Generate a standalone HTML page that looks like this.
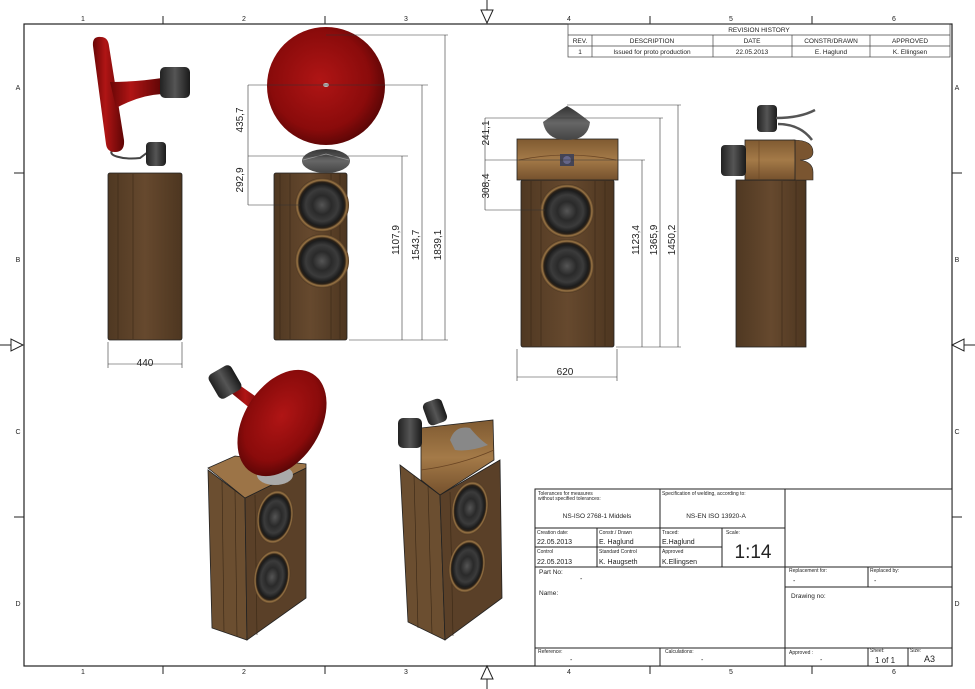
<!DOCTYPE html>
<html><head><meta charset="utf-8"><style>
html,body{margin:0;padding:0;background:#fff;}
svg{display:block;}
text{font-family:"Liberation Sans",sans-serif;fill:#222;}
</style></head><body>
<svg width="975" height="689" viewBox="0 0 975 689" xmlns="http://www.w3.org/2000/svg">
<defs>
<linearGradient id="wood" x1="0" x2="1" y1="0" y2="0">
<stop offset="0" stop-color="#4f3822"/><stop offset="0.5" stop-color="#66492e"/><stop offset="1" stop-color="#4d3620"/></linearGradient>
<linearGradient id="woodL" x1="0" x2="0" y1="0" y2="1">
<stop offset="0" stop-color="#7f5a31"/><stop offset="0.5" stop-color="#a47a48"/><stop offset="1" stop-color="#75512d"/></linearGradient>
<radialGradient id="red" cx="0.45" cy="0.45" r="0.6">
<stop offset="0" stop-color="#b01515"/><stop offset="0.7" stop-color="#8a0b0b"/><stop offset="1" stop-color="#520505"/></radialGradient>
<linearGradient id="redb" x1="0" x2="1"><stop offset="0" stop-color="#6a0606"/><stop offset="0.4" stop-color="#b01515"/><stop offset="1" stop-color="#5e0505"/></linearGradient>
<radialGradient id="spk" cx="0.5" cy="0.5" r="0.5">
<stop offset="0" stop-color="#555"/><stop offset="0.35" stop-color="#2a2a2a"/><stop offset="0.6" stop-color="#3b3b3b"/><stop offset="0.78" stop-color="#1c1c1c"/><stop offset="0.85" stop-color="#2a2016"/><stop offset="0.92" stop-color="#9a7545"/><stop offset="1" stop-color="#4a3420"/></radialGradient>
<linearGradient id="blk" x1="0" x2="1"><stop offset="0" stop-color="#222"/><stop offset="0.5" stop-color="#555"/><stop offset="1" stop-color="#1a1a1a"/></linearGradient>
<linearGradient id="tw" x1="0" x2="0" y1="0" y2="1"><stop offset="0" stop-color="#333"/><stop offset="0.5" stop-color="#666"/><stop offset="1" stop-color="#444"/></linearGradient>
</defs>

<!-- frame -->
<rect x="24" y="24" width="928" height="642" fill="none" stroke="#222" stroke-width="1.2"/>
<g stroke="#222" stroke-width="1">
<line x1="163" y1="16" x2="163" y2="24"/><line x1="325" y1="16" x2="325" y2="24"/><line x1="650" y1="16" x2="650" y2="24"/><line x1="812" y1="16" x2="812" y2="24"/>
<line x1="163" y1="666" x2="163" y2="674"/><line x1="325" y1="666" x2="325" y2="674"/><line x1="650" y1="666" x2="650" y2="674"/><line x1="812" y1="666" x2="812" y2="674"/>
<line x1="14" y1="173" x2="24" y2="173"/><line x1="14" y1="517" x2="24" y2="517"/>
<line x1="952" y1="173" x2="962" y2="173"/><line x1="952" y1="517" x2="962" y2="517"/>
<line x1="487" y1="0" x2="487" y2="10"/><polygon points="481,10 493,10 487,23" fill="#fff"/>
<line x1="487" y1="689" x2="487" y2="679"/><polygon points="481,679 493,679 487,666" fill="#fff"/>
<line x1="0" y1="345" x2="11" y2="345"/><polygon points="11,339 11,351 23,345" fill="#fff"/>
<line x1="975" y1="345" x2="964" y2="345"/><polygon points="964,339 964,351 952,345" fill="#fff"/>
</g>
<g font-size="7" text-anchor="middle">
<text x="83" y="21">1</text><text x="244" y="21">2</text><text x="406" y="21">3</text><text x="569" y="21">4</text><text x="731" y="21">5</text><text x="894" y="21">6</text>
<text x="83" y="674">1</text><text x="244" y="674">2</text><text x="406" y="674">3</text><text x="569" y="674">4</text><text x="731" y="674">5</text><text x="894" y="674">6</text>
<text x="18" y="90">A</text><text x="18" y="262">B</text><text x="18" y="434">C</text><text x="18" y="606">D</text>
<text x="957" y="90">A</text><text x="957" y="262">B</text><text x="957" y="434">C</text><text x="957" y="606">D</text>
</g>

<!-- revision table -->
<g stroke="#444" stroke-width="0.7" fill="none">
<rect x="568" y="24" width="382" height="33"/>
<line x1="568" y1="35" x2="950" y2="35"/><line x1="568" y1="46" x2="950" y2="46"/>
<line x1="592" y1="35" x2="592" y2="57"/><line x1="713" y1="35" x2="713" y2="57"/><line x1="792" y1="35" x2="792" y2="57"/><line x1="870" y1="35" x2="870" y2="57"/>
</g>
<g font-size="6.5" text-anchor="middle" fill="#333">
<text x="759" y="32">REVISION HISTORY</text>
<text x="580" y="43">REV.</text><text x="652" y="43">DESCRIPTION</text><text x="752" y="43">DATE</text><text x="831" y="43">CONSTR/DRAWN</text><text x="910" y="43">APPROVED</text>
<text x="580" y="54">1</text><text x="652" y="54">Issued for proto production</text><text x="752" y="54">22.05.2013</text><text x="831" y="54">E. Haglund</text><text x="910" y="54">K. Ellingsen</text>
</g>

<!-- title block -->
<g stroke="#222" stroke-width="1" fill="none">
<rect x="535" y="489" width="417" height="177" fill="#fff"/>
<line x1="535" y1="528" x2="785" y2="528"/>
<line x1="660" y1="489" x2="660" y2="567"/>
<line x1="785" y1="489" x2="785" y2="666"/>
<line x1="535" y1="547" x2="722" y2="547"/>
<line x1="597" y1="528" x2="597" y2="567"/>
<line x1="722" y1="528" x2="722" y2="567"/>
<line x1="535" y1="567" x2="952" y2="567"/>
<line x1="785" y1="587" x2="952" y2="587"/>
<line x1="868" y1="567" x2="868" y2="587"/>
<line x1="535" y1="648" x2="952" y2="648"/>
<line x1="660" y1="648" x2="660" y2="666"/>
<line x1="868" y1="648" x2="868" y2="666"/>
<line x1="908" y1="648" x2="908" y2="666"/>
</g>
<g fill="#333">
<text x="538" y="495" font-size="5">Tolerances for measures</text>
<text x="538" y="500" font-size="5">without specified tolerances:</text>
<text x="597" y="518" font-size="6.5" text-anchor="middle">NS-ISO 2768-1 Middels</text>
<text x="662" y="495" font-size="5">Specification of welding, according to:</text>
<text x="716" y="518" font-size="6.5" text-anchor="middle">NS-EN ISO 13920-A</text>
<text x="537" y="534" font-size="5">Creation date:</text>
<text x="537" y="544" font-size="7">22.05.2013</text>
<text x="599" y="534" font-size="5">Constr./ Drawn</text>
<text x="599" y="544" font-size="7">E. Haglund</text>
<text x="662" y="534" font-size="5">Traced:</text>
<text x="662" y="544" font-size="7">E.Haglund</text>
<text x="726" y="534" font-size="5">Scale:</text>
<text x="753" y="558" font-size="19" text-anchor="middle">1:14</text>
<text x="537" y="553" font-size="5">Control</text>
<text x="537" y="564" font-size="7">22.05.2013</text>
<text x="599" y="553" font-size="5">Standard Control</text>
<text x="599" y="564" font-size="7">K. Haugseth</text>
<text x="662" y="553" font-size="5">Approved</text>
<text x="662" y="564" font-size="7">K.Ellingsen</text>
<text x="539" y="574" font-size="6.5">Part No:</text>
<text x="580" y="581" font-size="7">-</text>
<text x="789" y="572" font-size="5">Replacement for:</text>
<text x="793" y="583" font-size="7">-</text>
<text x="870" y="572" font-size="5">Replaced by:</text>
<text x="874" y="583" font-size="7">-</text>
<text x="539" y="595" font-size="6.5">Name:</text>
<text x="791" y="598" font-size="6.5">Drawing no:</text>
<text x="538" y="653" font-size="5">Reference:</text>
<text x="570" y="662" font-size="7">-</text>
<text x="665" y="653" font-size="5">Calculations:</text>
<text x="701" y="662" font-size="7">-</text>
<text x="789" y="654" font-size="5">Approved :</text>
<text x="820" y="662" font-size="7">-</text>
<text x="870" y="652" font-size="5">Sheet:</text>
<text x="875" y="663" font-size="8">1 of 1</text>
<text x="910" y="652" font-size="5">Size:</text>
<text x="924" y="662" font-size="9">A3</text>
</g>

<!-- SIDE VIEW (left) -->
<rect x="108" y="173" width="74" height="167" fill="url(#wood)" stroke="#222" stroke-width="0.8" rx="2"/>
<line x1="118" y1="174" x2="118" y2="339" stroke="#3a2816" stroke-width="0.6"/>
<line x1="133" y1="174" x2="133" y2="339" stroke="#3a2816" stroke-width="0.6"/>
<path d="M113,150 C106,155 122,160 140,158 L148,152" stroke="#444" stroke-width="2" fill="none"/>
<path d="M93,46 Q92,36 101,37 Q108,37 109,46 L124,140 Q125,152 115,152 Q107,152 106,144 Z" fill="url(#redb)"/>
<path d="M110,82 Q135,82 162,78 L162,94 Q140,95 116,108 Z" fill="url(#redb)"/>
<rect x="160" y="67" width="30" height="31" rx="5" fill="url(#blk)"/>
<rect x="146" y="142" width="20" height="24" rx="4" fill="url(#blk)"/>
<g stroke="#333" stroke-width="0.6">
<line x1="108" y1="342" x2="108" y2="368"/><line x1="182" y1="342" x2="182" y2="368"/>
<line x1="108" y1="364" x2="182" y2="364"/>
</g>
<text x="145" y="366" font-size="10" text-anchor="middle">440</text>

<!-- FRONT VIEW -->
<rect x="274" y="173" width="73" height="167" fill="url(#wood)" stroke="#222" stroke-width="0.8" rx="2"/>
<g stroke="#3a2816" stroke-width="0.6"><line x1="280" y1="174" x2="280" y2="339"/><line x1="290" y1="174" x2="290" y2="339"/><line x1="331" y1="174" x2="331" y2="339"/><line x1="340" y1="174" x2="340" y2="339"/></g>
<circle cx="322" cy="205" r="27" fill="url(#spk)"/>
<circle cx="322" cy="261" r="27" fill="url(#spk)"/>
<circle cx="326" cy="86" r="59" fill="url(#red)"/>
<ellipse cx="326" cy="161" rx="24" ry="12" fill="url(#tw)"/>
<path d="M303,160 L326,154 L349,160" stroke="#999" stroke-width="0.8" fill="none"/>
<ellipse cx="326" cy="85" rx="3" ry="2" fill="#bbb"/>
<g stroke="#333" stroke-width="0.6">
<line x1="326" y1="35" x2="448" y2="35"/><line x1="248" y1="85" x2="428" y2="85"/>
<line x1="248" y1="156" x2="408" y2="156"/><line x1="248" y1="205" x2="300" y2="205"/>
<line x1="349" y1="340" x2="448" y2="340"/>
<line x1="445" y1="35" x2="445" y2="340"/><line x1="422" y1="85" x2="422" y2="340"/><line x1="402" y1="156" x2="402" y2="340"/>
<line x1="248" y1="85" x2="248" y2="205"/>
</g>
<g font-size="10" text-anchor="middle">
<text transform="translate(243,120) rotate(-90)">435,7</text>
<text transform="translate(243,180) rotate(-90)">292,9</text>
<text transform="translate(399,240) rotate(-90)">1107,9</text>
<text transform="translate(419,245) rotate(-90)">1543,7</text>
<text transform="translate(441,245) rotate(-90)">1839,1</text>
</g>

<!-- FRONT VIEW 2 (horn) -->
<rect x="521" y="180" width="93" height="167" fill="url(#wood)" stroke="#222" stroke-width="0.8" rx="2"/>
<g stroke="#3a2816" stroke-width="0.6"><line x1="531" y1="181" x2="531" y2="346"/><line x1="541" y1="181" x2="541" y2="346"/><line x1="595" y1="181" x2="595" y2="346"/><line x1="605" y1="181" x2="605" y2="346"/></g>
<circle cx="567" cy="211" r="27" fill="url(#spk)"/>
<circle cx="567" cy="266" r="27" fill="url(#spk)"/>
<rect x="517" y="139" width="101" height="41" fill="url(#woodL)" stroke="#222" stroke-width="0.8"/>
<path d="M519,160 Q567,150 616,160" stroke="#6a4524" fill="none" stroke-width="0.7"/>
<rect x="560" y="154" width="14" height="12" fill="#445"/>
<circle cx="567" cy="160" r="4" fill="#668"/>
<path d="M543,122 Q560,110 567,106 Q575,110 590,122 Q588,140 567,140 Q546,140 543,122 Z" fill="url(#tw)"/>
<g stroke="#333" stroke-width="0.6">
<line x1="567" y1="105" x2="681" y2="105"/><line x1="485" y1="118" x2="663" y2="118"/>
<line x1="485" y1="160" x2="645" y2="160"/><line x1="485" y1="210" x2="545" y2="210"/>
<line x1="616" y1="347" x2="681" y2="347"/>
<line x1="678" y1="105" x2="678" y2="347"/><line x1="660" y1="118" x2="660" y2="347"/><line x1="642" y1="160" x2="642" y2="347"/>
<line x1="485" y1="118" x2="485" y2="210"/>
<line x1="517" y1="349" x2="517" y2="381"/><line x1="617" y1="349" x2="617" y2="381"/><line x1="517" y1="377" x2="617" y2="377"/>
</g>
<g font-size="10" text-anchor="middle">
<text transform="translate(489,133) rotate(-90)">241,1</text>
<text transform="translate(489,186) rotate(-90)">308,4</text>
<text transform="translate(639,240) rotate(-90)">1123,4</text>
<text transform="translate(657,240) rotate(-90)">1365,9</text>
<text transform="translate(675,240) rotate(-90)">1450,2</text>
<text x="565" y="375">620</text>
</g>

<!-- RIGHT SIDE VIEW -->
<rect x="736" y="180" width="70" height="167" fill="url(#wood)" stroke="#222" stroke-width="0.8"/>
<g stroke="#3a2816" stroke-width="0.6"><line x1="782" y1="181" x2="782" y2="346"/><line x1="796" y1="181" x2="796" y2="346"/></g>
<path d="M793,140 Q813,140 813,152 Q813,160 800,160 Q813,162 813,172 L813,180 L793,180 Z" fill="#7a5530" stroke="#222" stroke-width="0.6"/>
<rect x="745" y="140" width="50" height="40" fill="url(#woodL)" stroke="#222" stroke-width="0.8"/>
<line x1="759" y1="141" x2="759" y2="179" stroke="#6a4524" stroke-width="0.6"/>
<rect x="721" y="145" width="25" height="31" rx="4" fill="url(#blk)"/>
<rect x="757" y="105" width="20" height="27" rx="4" fill="url(#blk)"/>
<path d="M776,118 Q800,118 815,110 M778,124 Q800,124 812,140" stroke="#555" stroke-width="2.5" fill="none"/>

<!-- ISO LEFT -->
<polygon points="208,470 245,498 247,640 212,628" fill="#6b4e30" stroke="#222" stroke-width="0.8"/>
<polygon points="245,498 306,468 306,598 247,640" fill="#5a4028" stroke="#222" stroke-width="0.8"/>
<polygon points="208,468 235,456 306,464 306,468 245,498" fill="#9c7447" stroke="#222" stroke-width="0.8"/>
<g stroke="#3a2816" stroke-width="0.6"><line x1="222" y1="480" x2="224" y2="632"/><line x1="235" y1="490" x2="237" y2="636"/><line x1="255" y1="495" x2="257" y2="635"/></g>
<ellipse cx="275" cy="517" rx="18" ry="27" fill="url(#spk)" transform="rotate(10 275 517)"/>
<ellipse cx="272" cy="577" rx="18" ry="27" fill="url(#spk)" transform="rotate(10 272 577)"/>
<ellipse cx="275" cy="475" rx="18" ry="10" fill="#aaa"/>
<path d="M235,382 L268,405 L262,418 L230,392 Z" fill="url(#redb)"/>
<rect x="212" y="368" width="26" height="28" rx="5" fill="url(#blk)" transform="rotate(-30 225 382)"/>
<ellipse cx="282" cy="423" rx="38" ry="58" fill="url(#red)" transform="rotate(32 282 423)"/>

<!-- ISO RIGHT -->
<polygon points="400,465 440,495 445,640 408,622" fill="#6b4e30" stroke="#222" stroke-width="0.8"/>
<polygon points="440,495 500,460 502,598 445,640" fill="#5a4028" stroke="#222" stroke-width="0.8"/>
<g stroke="#3a2816" stroke-width="0.6"><line x1="414" y1="475" x2="418" y2="628"/><line x1="428" y1="485" x2="432" y2="634"/><line x1="450" y1="492" x2="453" y2="636"/></g>
<ellipse cx="470" cy="508" rx="18" ry="27" fill="url(#spk)" transform="rotate(10 470 508)"/>
<ellipse cx="467" cy="566" rx="18" ry="27" fill="url(#spk)" transform="rotate(10 467 566)"/>
<polygon points="421,428 493,420 494,460 440,495 421,480" fill="url(#woodL)" stroke="#222" stroke-width="0.8"/>
<path d="M421,470 Q460,465 494,450" stroke="#6a4524" fill="none" stroke-width="0.8"/>
<path d="M450,440 Q455,425 470,428 Q480,440 488,445 Q470,452 455,450 Z" fill="#888"/>
<rect x="398" y="418" width="24" height="30" rx="5" fill="url(#blk)"/>
<rect x="425" y="400" width="20" height="24" rx="5" fill="url(#blk)" transform="rotate(-20 435 412)"/>
</svg>
</body></html>
